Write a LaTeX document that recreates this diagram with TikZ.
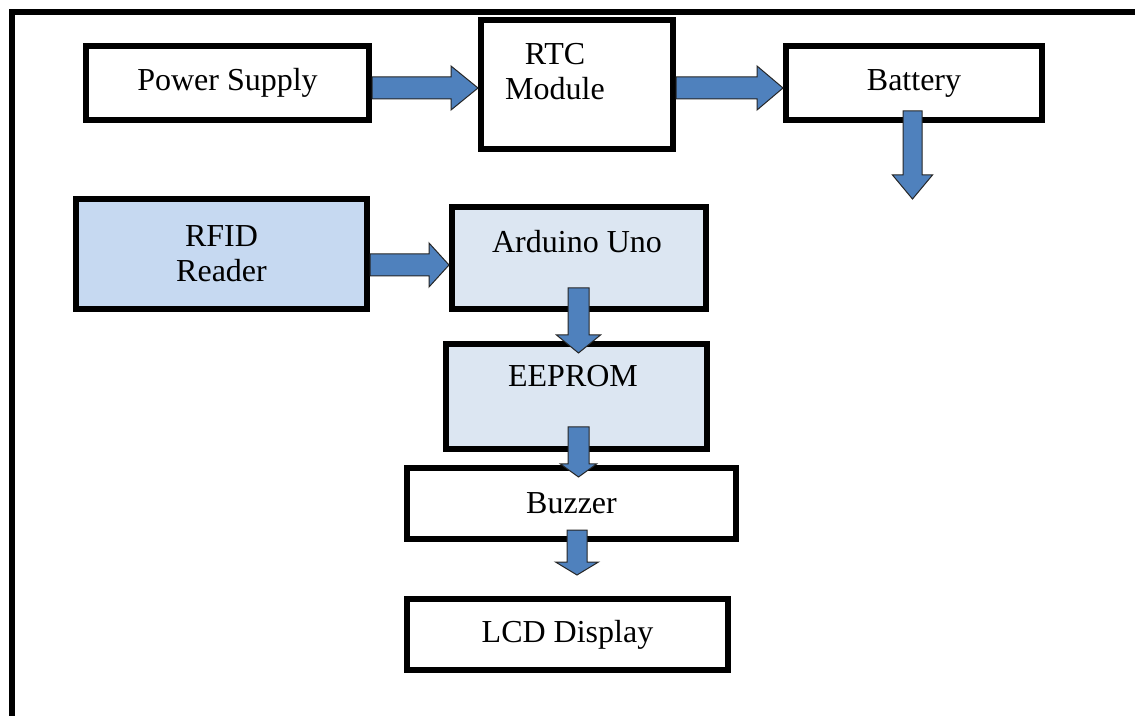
\documentclass[tikz,border=0pt]{standalone}
\usepackage{fontspec}
\setmainfont{Liberation Serif}
\usetikzlibrary{calc}
\definecolor{arrowblue}{HTML}{4F81BD}
\definecolor{rfidfill}{HTML}{C6D9F1}
\definecolor{ardfill}{HTML}{DCE6F2}
\tikzset{
 box/.style={draw=black, line width=3pt, rectangle, inner sep=0pt, align=center, font=\fontsize{16}{17.5}\selectfont},
 blk/.style={fill=arrowblue, draw=black!85, line width=0.5pt, line join=miter},
 lbl/.style={inner sep=0pt, font=\fontsize{16}{17.5}\selectfont, align=center},
 frame/.style={draw=black, line width=3pt, line join=miter},
}
% horizontal block arrow: from anchor, to anchor (tip), y (px), head length (px)
\newcommand{\hblk}[4]{\draw[blk] let \p1=(#1), \p2=(#2), \p3=(0,#3) in
 (\x1,\y3+5.5pt) -- (\x2-#4*0.5pt,\y3+5.5pt) -- (\x2-#4*0.5pt,\y3+11pt) -- (\x2,\y3)
 -- (\x2-#4*0.5pt,\y3-11pt) -- (\x2-#4*0.5pt,\y3-5.5pt) -- (\x1,\y3-5.5pt) -- cycle;}
% vertical block arrow: x (px), start, tip, head length, shaft half width, head half width (px)
\newcommand{\vblk}[6]{\draw[blk] let \p1=(#2), \p2=(#3), \p3=(#1,0) in
 (\x3-#5*0.5pt,\y1) -- (\x3-#5*0.5pt,\y2+#4*0.5pt) -- (\x3-#6*0.5pt,\y2+#4*0.5pt) -- (\x3,\y2)
 -- (\x3+#6*0.5pt,\y2+#4*0.5pt) -- (\x3+#5*0.5pt,\y2+#4*0.5pt) -- (\x3+#5*0.5pt,\y1) -- cycle;}
\begin{document}
\begin{tikzpicture}[x=0.5pt,y=-0.5pt]
\useasboundingbox (0,0) rectangle (1135,716);
\fill[white] (0,0) rectangle (1135,716);
\draw[frame] (1145,12) -- (12,12) -- (12,726);

\node[box, minimum width=141.5pt, minimum height=37pt] (ps) at (227.5,83) {Power Supply};
\node[box, minimum width=96pt, minimum height=64.5pt] (rtc) at (577,84.5) {};
\node[lbl] (rtct) at (555,72) {RTC\\Module};
\node[box, minimum width=128pt, minimum height=37pt] (bat) at (914,83) {Battery};

\node[box, fill=rfidfill, minimum width=145.5pt, minimum height=55pt] (rfid) at (221.5,254) {RFID\\Reader};
\node[box, fill=ardfill, minimum width=127pt, minimum height=51pt] (ard) at (579,258) {};
\node[lbl] (ardt) at (577,242) {Arduino Uno};
\node[box, fill=ardfill, minimum width=130.5pt, minimum height=52.5pt] (eep) at (576.5,396.5) {};
\node[lbl] (eept) at (573,376) {EEPROM};
\node[box, minimum width=164.5pt, minimum height=35.5pt] (buz) at (571.5,503.5) {Buzzer};
\node[box, minimum width=160.5pt, minimum height=35.5pt] (lcd) at (567.5,634.5) {LCD Display};

\coordinate (battip) at (912.5,199);

\hblk{ps.east}{rtc.west}{88}{27}
\hblk{rtc.east}{bat.west}{88}{26}
\hblk{rfid.east}{ard.west}{265}{20}
\vblk{912.5}{$(bat.south)+(0,-12)$}{battip}{24}{9.5}{20}
\vblk{578.5}{$(ard.south)+(0,-24)$}{$(eep.north)+(0,12)$}{18}{10.5}{22}
\vblk{578.5}{$(eep.south)+(0,-25)$}{$(buz.north)+(0,12)$}{13}{10.5}{18}
\vblk{577}{$(buz.south)+(0,-12)$}{$(lcd.north)+(0,-21)$}{13}{10}{21.5}
\end{tikzpicture}
\end{document}
